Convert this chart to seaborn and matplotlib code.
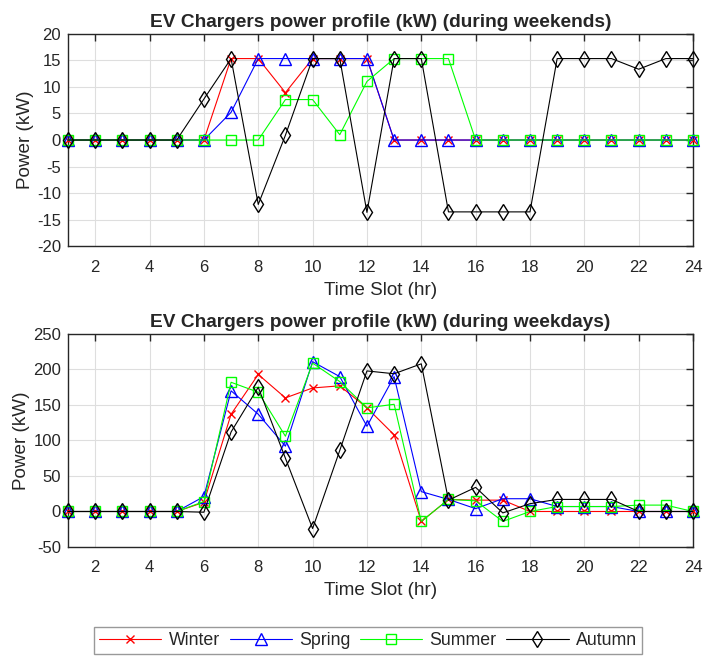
import matplotlib
matplotlib.use("Agg")
import matplotlib.pyplot as plt
import seaborn as sns
import pandas as pd

# Hourly time slots
hours = list(range(1, 25))
seasons = ["Winter", "Spring", "Summer", "Autumn"]

# Weekend charger power (kW)
weekend_winter = [0, 0, 0, 0, 0, 0, 15.3, 15.3, 8.9, 15.3, 15.3, 15.3,
                  0, 0, 0, 0, 0, 0, 0, 0, 0, 0, 0, 0]
weekend_spring = [0, 0, 0, 0, 0, 0, 5.2, 15.3, 15.3, 15.3, 15.3, 15.3,
                  0, 0, 0, 0, 0, 0, 0, 0, 0, 0, 0, 0]
weekend_summer = [0, 0, 0, 0, 0, 0, 0, 0, 7.6, 7.6, 1.0, 11.0,
                  15.3, 15.3, 15.3, 0, 0, 0, 0, 0, 0, 0, 0, 0]
weekend_autumn = [0, 0, 0, 0, 0, 7.7, 15.3, -12.1, 0.9, 15.3, 15.3, -13.6,
                  15.3, 15.3, -13.5, -13.5, -13.5, -13.5, 15.3, 15.3, 15.3, 13.3, 15.3, 15.3]

# Weekday charger power (kW)
weekday_winter = [0, 0, 0, 0, 0, 13, 137, 193, 160, 174, 177, 146,
                  108, -14, 17, 16, 16, 0, 0, 0, 0, 0, 0, 0]
weekday_spring = [0, 0, 0, 0, 0, 21, 170, 137, 92, 211, 190, 120,
                  190, 28, 17, 4, 18, 18, 7, 7, 7, 0, 0, 0]
weekday_summer = [0, 0, 0, 0, 0, 14, 182, 168, 106, 209, 183, 146,
                  151, -14, 17, 15, -14, 0, 7, 7, 7, 9, 9, 0]
weekday_autumn = [0, 0, 0, 0, 0, -1, 112, 175, 75, -24, 86, 198,
                  194, 208, 16, 34, -2, 11, 17, 17, 17, 0, 0, 0]

colors = {"Winter": "#FF0000", "Spring": "#0000FF",
          "Summer": "#00FF00", "Autumn": "#000000"}
markers = {"Winter": "x", "Spring": "^", "Summer": "s", "Autumn": "d"}
msizes = {"Winter": 6, "Spring": 9, "Summer": 6.5, "Autumn": 7.8}

sns.set_style("white")
plt.rcParams["font.family"] = ["Liberation Sans", "DejaVu Sans"]
plt.rcParams["axes.unicode_minus"] = False


def long_frame(series):
    rows = []
    for name, vals in zip(seasons, series):
        for h, v in zip(hours, vals):
            rows.append({"Time": h, "Power": v, "Season": name})
    return pd.DataFrame(rows)


weekend = long_frame([weekend_winter, weekend_spring, weekend_summer, weekend_autumn])
weekday = long_frame([weekday_winter, weekday_spring, weekday_summer, weekday_autumn])

fig = plt.figure(figsize=(7.05, 6.58), dpi=100)
ax1 = fig.add_axes([0.0965, 0.6254, 0.8865, 0.3236])
ax2 = fig.add_axes([0.0965, 0.1687, 0.8865, 0.3237])

panels = [
    (ax1, weekend, "EV Chargers power profile (kW) (during weekends)",
     (-20, 20), list(range(-20, 21, 5))),
    (ax2, weekday, "EV Chargers power profile (kW) (during weekdays)",
     (-50, 250), list(range(-50, 251, 50))),
]

axis_grey = "#262626"
for ax, df, title, ylim, yticks in panels:
    for name in seasons:
        sub = df[df["Season"] == name]
        sns.lineplot(data=sub, x="Time", y="Power", ax=ax, color=colors[name],
                     marker=markers[name], markersize=msizes[name],
                     markerfacecolor="none", markeredgecolor=colors[name],
                     markeredgewidth=1.0, linewidth=0.8, label=name,
                     legend=False, clip_on=False, zorder=3)
    ax.set_xlim(1, 24)
    ax.set_ylim(*ylim)
    ax.set_xticks(list(range(2, 25, 2)))
    ax.set_yticks(yticks)
    ax.grid(True, color="#DEDEDE", linewidth=0.8)
    ax.set_axisbelow(True)
    for side in ["left", "bottom", "top", "right"]:
        ax.spines[side].set_visible(True)
        ax.spines[side].set_color(axis_grey)
        ax.spines[side].set_linewidth(1.0)
    ax.tick_params(direction="in", length=5, width=1.0, top=True, right=True,
                   colors=axis_grey, labelsize=12, labelcolor=axis_grey)
    ax.tick_params(axis="x", pad=9.5)
    ax.tick_params(axis="y", pad=5)
    ax.set_title(title, fontsize=13.8, fontweight="bold", pad=5)
    ax.set_xlabel("Time Slot (hr)", fontsize=13.6, color=axis_grey, labelpad=5)
    ax.set_ylabel("Power (kW)", fontsize=13.6, color=axis_grey, labelpad=2)

handles, labels = ax2.get_legend_handles_labels()
leg = fig.legend(handles, labels, loc="center", ncol=4,
                 bbox_to_anchor=(368 / 705, 1 - 640.5 / 658),
                 frameon=True, fancybox=False, fontsize=12.8,
                 handlelength=3.5, handletextpad=0.4, columnspacing=0.55,
                 borderpad=0.3)
leg.get_frame().set_edgecolor("#808080")
leg.get_frame().set_linewidth(1.0)
for t in leg.get_texts():
    t.set_color(axis_grey)

fig.savefig("out.png", dpi=100)
